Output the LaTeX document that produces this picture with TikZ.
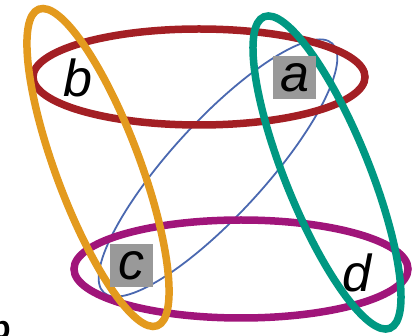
\documentclass[tikz,border=0pt]{standalone}
\usepackage{fontspec}
\setsansfont{Liberation Sans}
\definecolor{cred}{HTML}{A31F24}
\definecolor{cmag}{HTML}{A0157A}
\definecolor{corange}{HTML}{E39A1E}
\definecolor{cteal}{HTML}{009882}
\definecolor{cblue}{HTML}{4A68B0}
\definecolor{cgray}{HTML}{999999}
\begin{document}
\begin{tikzpicture}[x=1pt,y=1pt,
  thick edge/.style={line width=7.5pt},
  thin edge/.style={line width=1.8pt},
  lbl/.style={inner sep=0pt, font=\fontsize{52}{52}\selectfont\sffamily\itshape},
  boxlbl/.style={lbl, fill=cgray, minimum width=43pt, minimum height=43pt}]
\useasboundingbox (0,0) rectangle (415,-336);
\clip (0,0) rectangle (415,-336);
% blue thin hyperedge a-c
\draw[thin edge, cblue, rotate around={47.5:(218,-168)}] (218,-168) ellipse [x radius=169, y radius=47];
% red a-b
\draw[thick edge, cred] (199,-77) ellipse [x radius=166, y radius=48];
% magenta c-d
\draw[thick edge, cmag] (241,-269) ellipse [x radius=167, y radius=49];
% orange b-c
\draw[thick edge, corange, rotate around={-69.5:(98,-167.5)}] (98,-167.5) ellipse [x radius=169, y radius=42];
% teal a-d
\draw[thick edge, cteal, rotate around={-68:(327,-172.5)}] (327,-172.5) ellipse [x radius=168, y radius=42];
% labels
\node[lbl] (b) at (77.5,-77.5) {b};
\node[boxlbl] (a) at (294.5,-77.5) {a};
\node[boxlbl] (c) at (131.5,-266) {c};
\node[lbl] (d) at (357,-272.5) {d};
\node[inner sep=0pt, anchor=base west, font=\fontsize{32}{32}\selectfont\sffamily\bfseries] (panel) at (-9,-339) {b};
\end{tikzpicture}
\end{document}
